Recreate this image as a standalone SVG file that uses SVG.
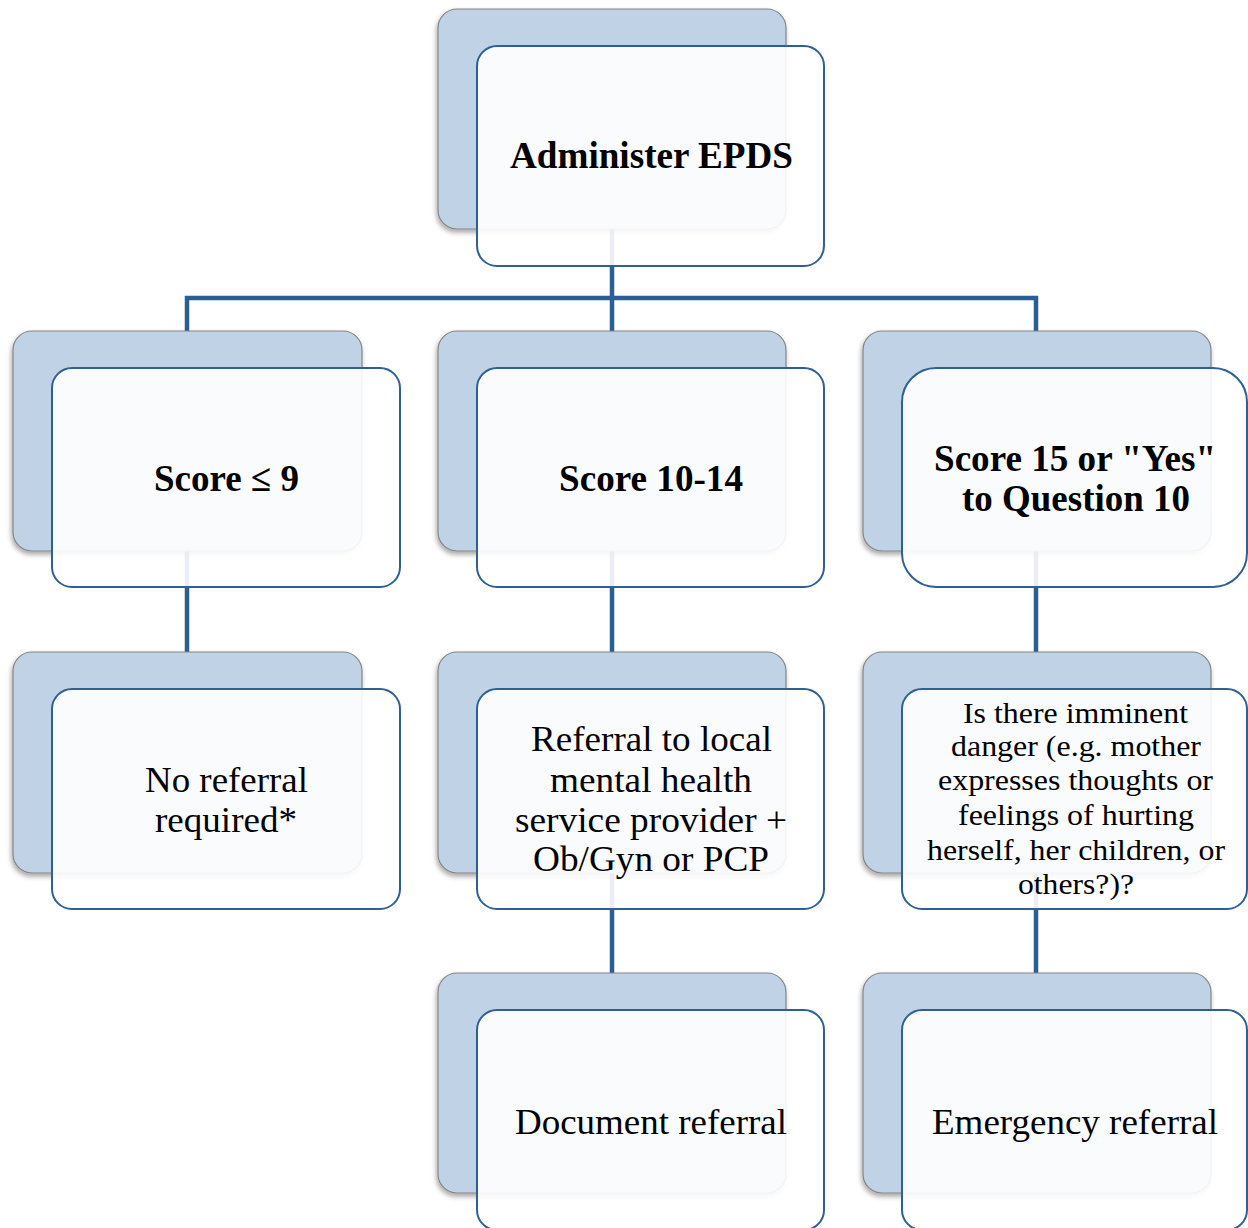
<svg xmlns="http://www.w3.org/2000/svg" width="1248" height="1228" viewBox="0 0 1248 1228">
<defs>
<filter id="sh" x="-10%" y="-10%" width="120%" height="125%">
<feDropShadow dx="-1" dy="3" stdDeviation="2.5" flood-color="#000" flood-opacity="0.35"/>
</filter>
<style>
.back{fill:#c0d3e6;stroke:#858585;stroke-width:1.2;filter:url(#sh)}
.front{fill:#ffffff;fill-opacity:0.9;stroke:#2e6096;stroke-width:2}
.conn{stroke:#2b5e94;stroke-width:4.5;fill:none}
text{fill:#000;text-anchor:middle}
.b{font-weight:bold;font-size:38px}
.n{font-size:35px}
.s{font-size:29px}
</style>
</defs>
<rect width="1248" height="1228" fill="#fff"/>
<g id="connectors">
<path class="conn" d="M612 229V331M187 331V298H1036V331"/>
<path class="conn" d="M187 551V652M612 551V652M1036 551V652"/>
<path class="conn" d="M612 873V973M1036 873V973"/>
</g>
<g font-family="Liberation Serif, Times New Roman, serif">
<g id="n-administer">
<rect class="back" x="438" y="9" width="348" height="220" rx="19"/>
<rect class="front" x="477" y="46" width="347" height="220" rx="20"/>
<text class="b" x="651.5" y="168" textLength="283" lengthAdjust="spacingAndGlyphs">Administer EPDS</text>
</g>
<g id="n-score9">
<rect class="back" x="13" y="331" width="349" height="220" rx="19"/>
<rect class="front" x="52" y="368" width="348" height="219" rx="20"/>
<text class="b" x="226.5" y="491" textLength="145" lengthAdjust="spacingAndGlyphs">Score ≤ 9</text>
</g>
<g id="n-score10">
<rect class="back" x="438" y="331" width="348" height="220" rx="19"/>
<rect class="front" x="477" y="368" width="347" height="219" rx="20"/>
<text class="b" x="651" y="491" textLength="184" lengthAdjust="spacingAndGlyphs">Score 10-14</text>
</g>
<g id="n-score15">
<rect class="back" x="863" y="331" width="348" height="220" rx="19"/>
<rect class="front" x="902" y="368" width="345" height="219" rx="34"/>
<text class="b" x="1075" y="471" textLength="282" lengthAdjust="spacingAndGlyphs">Score 15 or "Yes"</text>
<text class="b" x="1076" y="511" textLength="228" lengthAdjust="spacingAndGlyphs">to Question 10</text>
</g>
<g id="n-noref">
<rect class="back" x="13" y="652" width="349" height="221" rx="19"/>
<rect class="front" x="52" y="689" width="348" height="220" rx="20"/>
<text class="n" x="226.5" y="792" textLength="163" lengthAdjust="spacingAndGlyphs">No referral</text>
<text class="n" x="226" y="832" textLength="142" lengthAdjust="spacingAndGlyphs">required*</text>
</g>
<g id="n-referral">
<rect class="back" x="438" y="652" width="348" height="221" rx="19"/>
<rect class="front" x="477" y="689" width="347" height="220" rx="20"/>
<text class="n" x="651.5" y="751" textLength="241" lengthAdjust="spacingAndGlyphs">Referral to local</text>
<text class="n" x="651" y="792" textLength="202" lengthAdjust="spacingAndGlyphs">mental health</text>
<text class="n" x="651" y="832" textLength="272" lengthAdjust="spacingAndGlyphs">service provider +</text>
<text class="n" x="651" y="871" textLength="236" lengthAdjust="spacingAndGlyphs">Ob/Gyn or PCP</text>
</g>
<g id="n-danger">
<rect class="back" x="863" y="652" width="348" height="221" rx="19"/>
<rect class="front" x="902" y="689" width="345" height="220" rx="20"/>
<text class="s" x="1075.5" y="723" textLength="225" lengthAdjust="spacingAndGlyphs">Is there imminent</text>
<text class="s" x="1076" y="756" textLength="250" lengthAdjust="spacingAndGlyphs">danger (e.g. mother</text>
<text class="s" x="1075.5" y="790" textLength="275" lengthAdjust="spacingAndGlyphs">expresses thoughts or</text>
<text class="s" x="1076" y="825" textLength="236" lengthAdjust="spacingAndGlyphs">feelings of hurting</text>
<text class="s" x="1076" y="860" textLength="298" lengthAdjust="spacingAndGlyphs">herself, her children, or</text>
<text class="s" x="1076" y="894" textLength="116" lengthAdjust="spacingAndGlyphs">others?)?</text>
</g>
<g id="n-document">
<rect class="back" x="438" y="973" width="348" height="220" rx="19"/>
<rect class="front" x="477" y="1010" width="347" height="220" rx="20"/>
<text class="n" x="651" y="1134" textLength="272" lengthAdjust="spacingAndGlyphs">Document referral</text>
</g>
<g id="n-emergency">
<rect class="back" x="863" y="973" width="348" height="220" rx="19"/>
<rect class="front" x="902" y="1010" width="345" height="220" rx="20"/>
<text class="n" x="1075" y="1134" textLength="286" lengthAdjust="spacingAndGlyphs">Emergency referral</text>
</g>
</g>
</svg>
